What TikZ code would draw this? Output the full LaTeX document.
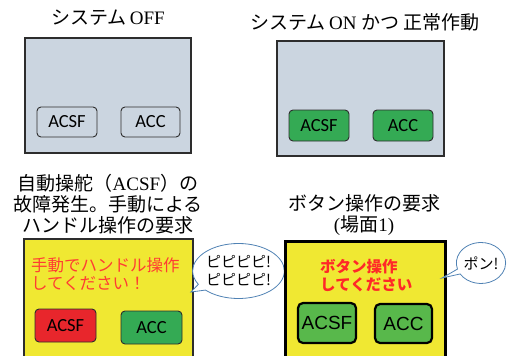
\documentclass[tikz,border=0pt]{standalone}
\usepackage{fontspec}
\setmainfont{Liberation Serif}
\newfontfamily\jp{Noto Sans CJK JP}
\newfontfamily\btnfont{Carlito}
\newfontfamily\arialfont{Liberation Sans}
\usetikzlibrary{shapes.callouts}
\definecolor{panelgray}{RGB}{203,213,224}
\definecolor{btngreen}{RGB}{52,170,84}
\definecolor{btngreenb}{RGB}{88,184,75}
\definecolor{btnred}{RGB}{232,38,44}
\definecolor{panelyellow}{RGB}{240,232,50}
\definecolor{redtext}{RGB}{255,60,50}
\definecolor{redtextb}{RGB}{255,40,40}
\definecolor{bubbleblue}{RGB}{80,130,180}
\definecolor{darkline}{RGB}{45,45,45}
\tikzset{
  panel/.style={draw=darkline, line width=1.2pt, inner sep=0pt},
  btn/.style={draw=darkline, line width=0.9pt, rounded corners=4pt, inner sep=0pt, font=\btnfont\fontsize{18.5}{20}\selectfont},
  btnb/.style={draw=black, line width=2.2pt, rounded corners=5pt, inner sep=0pt, fill=btngreenb, font=\arialfont\fontsize{19}{21}\selectfont},
  ttl/.style={inner sep=0pt, align=center, font=\fontsize{19}{21}\selectfont},
  bubble/.style={ellipse callout, draw=bubbleblue, line width=0.8pt, fill=white, inner sep=0pt, align=center, font=\jp\fontsize{15}{18}\selectfont}
}
\begin{document}
\begin{tikzpicture}[x=1pt,y=-1pt]
\useasboundingbox (0,0) rectangle (509,356);
% panel 1
\node[ttl] (t1) at (108,18) {{\jp システム}\,OFF};
\node[panel, fill=panelgray, minimum width=166pt, minimum height=115pt] (p1) at (108,95.5) {};
\node[btn, fill=panelgray, minimum width=60pt, minimum height=30pt] (b1a) at (67,122) {ACSF};
\node[btn, fill=panelgray, minimum width=59pt, minimum height=30pt] (b1b) at (150.5,122) {ACC};
% panel 2
\node[ttl] (t2) at (365,22) {{\jp システム}\,ON {\jp かつ 正常作動}};
\node[panel, fill=panelgray, minimum width=167pt, minimum height=115pt] (p2) at (360.5,98.5) {};
\node[btn, fill=btngreen, minimum width=60pt, minimum height=31pt] (b2a) at (319,125.5) {ACSF};
\node[btn, fill=btngreen, minimum width=60pt, minimum height=31pt] (b2b) at (403,125.5) {ACC};
% panel 3
\node[ttl] (t3) at (108,204) {{\jp 自動操舵（}ACSF{\jp ）の}\\{\jp 故障発生。手動による}\\{\jp ハンドル操作の要求}};
\node[panel, fill=panelyellow, minimum width=169pt, minimum height=119pt] (p3) at (108.5,298.5) {};
\node[inner sep=0pt, anchor=west, align=left, text=redtext, font=\jp\fontsize{16.5}{18}\selectfont] (r3) at (31,274) {手動でハンドル操作\\してください！};
\node[btn, fill=btnred, minimum width=61pt, minimum height=33pt] (b3a) at (65.5,325.5) {ACSF};
\node[btn, fill=btngreen, minimum width=61pt, minimum height=33pt] (b3b) at (151.5,327.5) {ACC};
\node[bubble, minimum width=83pt, minimum height=55pt, callout absolute pointer={(191,292)}] (s1) at (238.5,271) {ピピピピ!\\ピピピピ!};
% panel 4
\node[ttl] (t4) at (364,215) {{\jp ボタン操作の要求}\\({\jp 場面}1)};
\node[draw=black, line width=3pt, fill=panelyellow, inner sep=0pt, minimum width=160pt, minimum height=119pt] (p4) at (365,300.5) {};
\node[inner sep=0pt, anchor=west, align=left, text=redtextb, font=\jp\bfseries\fontsize{15.5}{18}\selectfont] (r4) at (320,276) {ボタン操作\\してください};
\node[btnb, minimum width=58pt, minimum height=40pt] (b4a) at (327,323) {ACSF};
\node[btnb, minimum width=57pt, minimum height=39pt] (b4b) at (403.5,323.5) {ACC};
\node[bubble, minimum width=48pt, minimum height=41pt, callout absolute pointer={(442,278)}] (s2) at (481,263) {ポン!};
\end{tikzpicture}
\end{document}
